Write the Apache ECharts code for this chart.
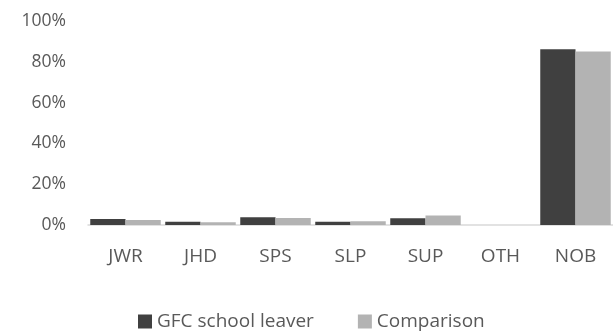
<!DOCTYPE html>
<html>
<head>
<meta charset="utf-8">
<script src="https://cdn.jsdelivr.net/npm/echarts@6/dist/echarts.min.js"></script>
<style>
  html, body { margin: 0; padding: 0; background: #fff; }
  #chart { width: 613px; height: 334px; }
</style>
</head>
<body>
<div id="chart"></div>
<script>
const categories = ['JWR', 'JHD', 'SPS', 'SLP', 'SUP', 'OTH', 'NOB'];
const gfcSchoolLeaver = [2.9, 1.6, 3.8, 1.6, 3.3, 0, 86.1];
const comparison = [2.5, 1.3, 3.4, 1.8, 4.7, 0, 85.0];
const seriesNames = ['GFC school leaver', 'Comparison'];

const textColor = '#595959';
const fontFamily = '"Open Sans", sans-serif';

const myChart = echarts.init(document.getElementById('chart'));

const option = {
  animation: false,
  textStyle: { fontFamily: fontFamily },
  grid: {
    left: 88,
    right: 0,
    top: 21,
    bottom: 109
  },
  legend: {
    data: seriesNames,
    bottom: -2,
    left: 133,
    itemWidth: 14,
    itemHeight: 14,
    itemGap: 44,
    icon: 'rect',
    textStyle: { color: textColor, fontSize: 19, fontFamily: fontFamily }
  },
  xAxis: {
    type: 'category',
    data: categories,
    axisLine: { lineStyle: { color: '#d9d9d9', width: 1.5 } },
    axisTick: { show: false },
    axisLabel: { color: textColor, fontSize: 19, margin: 22, fontFamily: fontFamily }
  },
  yAxis: {
    type: 'value',
    min: 0,
    max: 100,
    interval: 20,
    splitLine: { show: false },
    axisLine: { show: false },
    axisTick: { show: false },
    axisLabel: {
      color: textColor,
      fontSize: 17.5,
      margin: 22,
      fontFamily: fontFamily,
      formatter: '{value}%'
    }
  },
  series: [
    {
      name: seriesNames[0],
      type: 'bar',
      data: gfcSchoolLeaver,
      barGap: '0%',
      barCategoryGap: '6%',
      itemStyle: { color: '#404040' }
    },
    {
      name: seriesNames[1],
      type: 'bar',
      data: comparison,
      itemStyle: { color: '#b3b3b3' }
    }
  ]
};

myChart.setOption(option);
</script>
</body>
</html>
